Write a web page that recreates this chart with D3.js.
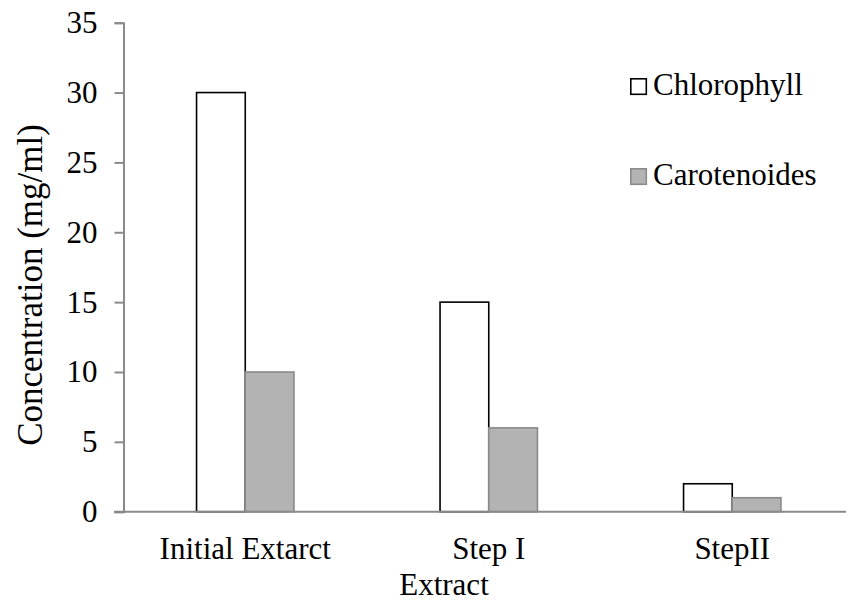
<!DOCTYPE html>
<html>
<head>
<meta charset="utf-8">
<script src="https://cdn.jsdelivr.net/npm/d3@7"></script>
<style>
  html, body { margin: 0; padding: 0; background: #fff; }
  svg { display: block; }
  text { font-family: "Liberation Serif", "Times New Roman", serif; fill: #000; }
</style>
</head>
<body>
<svg id="chart" width="846" height="601"></svg>
<script>
// Pigment concentration per extraction stage
const categories = ["Initial Extarct", "Step I", "StepII"];
const seriesNames = ["Chlorophyll", "Carotenoides"];
const chlorophyll = [30, 15, 2];
const carotenoides = [10, 6, 1];
const yTicks = [0, 5, 10, 15, 20, 25, 30, 35];

const series = [
  { name: seriesNames[0], values: chlorophyll, fill: "#ffffff", stroke: "#000000" },
  { name: seriesNames[1], values: carotenoides, fill: "#b3b3b3", stroke: "#8a8a8a" }
];

const svg = d3.select("#chart");
const axisColor = "#8a8a8a";
const fontSize = 31;

const x = d3.scaleBand().domain(categories).range([123.5, 854]).paddingInner(0).paddingOuter(0);
const y = d3.scaleLinear().domain([0, 35]).range([511.7, 22.7]);

// bar width is a fifth of the category band
const inner = d3.scaleBand().domain(seriesNames)
  .range([x.bandwidth() * 0.3, x.bandwidth() * 0.7]);

// bars
const groups = svg.append("g").selectAll("g")
  .data(categories)
  .join("g")
  .attr("transform", d => `translate(${x(d)},0)`);

series.forEach(s => {
  groups.append("rect")
    .attr("x", () => inner(s.name))
    .attr("width", inner.bandwidth())
    .attr("y", (d, i) => y(s.values[i]))
    .attr("height", (d, i) => y(0) - y(s.values[i]))
    .attr("fill", s.fill)
    .attr("stroke", s.stroke)
    .attr("stroke-width", 1.6);
});

// y axis
const yAxis = d3.axisLeft(y).tickValues(yTicks).tickSize(9).tickPadding(17).tickFormat(d3.format("d"));
const gy = svg.append("g").attr("transform", "translate(123.5,0)").call(yAxis);
gy.select(".domain").attr("stroke", axisColor).attr("stroke-width", 2);
gy.selectAll(".tick line").attr("stroke", axisColor).attr("stroke-width", 2);
gy.selectAll(".tick text")
  .attr("font-family", "Liberation Serif, serif")
  .attr("font-size", fontSize)
  .attr("fill", "#000");

// x axis baseline
const xAxis = d3.axisBottom(x).tickSize(0).tickPadding(25);
const gx = svg.append("g").attr("transform", `translate(0,${y(0)})`).call(xAxis);
gx.select(".domain").remove();
gx.append("line")
  .attr("x1", 114).attr("x2", 846)
  .attr("y1", 0).attr("y2", 0)
  .attr("stroke", axisColor).attr("stroke-width", 2);
gx.selectAll(".tick text")
  .attr("font-family", "Liberation Serif, serif")
  .attr("font-size", fontSize)
  .attr("fill", "#000")
  .attr("dy", "0.71em");

// axis titles
svg.append("text")
  .attr("x", 444).attr("y", 595)
  .attr("text-anchor", "middle")
  .attr("font-size", fontSize)
  .text("Extract");

svg.append("text")
  .attr("transform", "translate(42,285) rotate(-90)")
  .attr("text-anchor", "middle")
  .attr("font-size", 35)
  .text("Concentration (mg/ml)");

// legend
const legend = svg.append("g").selectAll("g")
  .data(series)
  .join("g")
  .attr("transform", (d, i) => `translate(630,${78 + i * 90})`);
legend.append("rect")
  .attr("x", 0.8).attr("y", 0.8)
  .attr("width", 15.5).attr("height", 15.5)
  .attr("fill", d => d.fill)
  .attr("stroke", d => d.stroke)
  .attr("stroke-width", 1.6);
legend.append("text")
  .attr("x", 23).attr("y", 17)
  .attr("font-size", fontSize)
  .text(d => d.name);
</script>
</body>
</html>
